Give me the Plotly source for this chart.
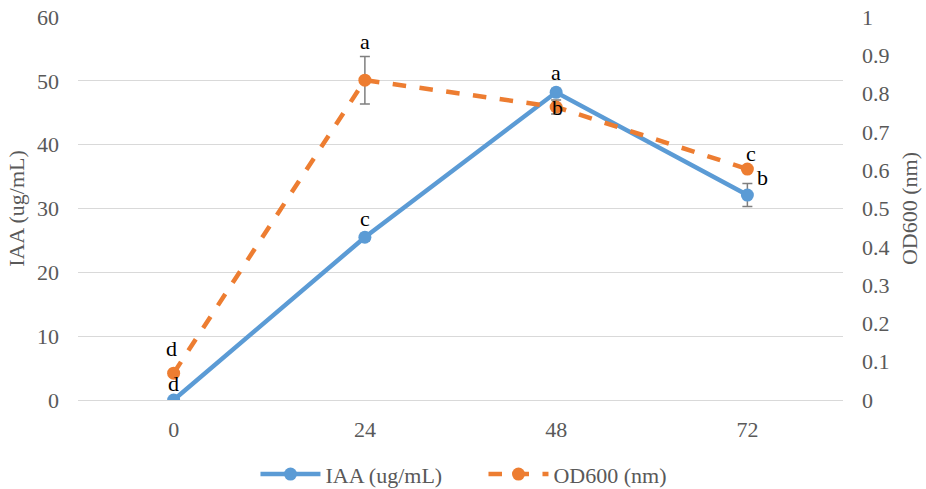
import plotly.graph_objects as go

hours = ["0", "24", "48", "72"]
iaa = [0.0, 25.5, 48.2, 32.1]
iaa_err = [0.3, 0.6, 0.6, 1.8]
iaa_letters = ["d", "c", "a", "b"]
od = [0.07, 0.835, 0.765, 0.603]
od_err = [0.0, 0.062, 0.018, 0.0]
od_letters = ["d", "a", "b", "c"]

BLUE = "#5B9BD5"
ORANGE = "#ED7D31"
GRAY = "#595959"
FONT = "Liberation Serif"

fig = go.Figure()
fig.add_trace(go.Scatter(
    x=hours, y=iaa, name="IAA (ug/mL)", mode="lines+markers",
    line=dict(color=BLUE, width=4.5), marker=dict(size=13, color=BLUE),
    error_y=dict(type="data", array=iaa_err, color="#7F7F7F", thickness=1.5, width=5),
    yaxis="y"))
fig.add_trace(go.Scatter(
    x=hours, y=od, name="OD600 (nm)", mode="lines+markers",
    line=dict(color=ORANGE, width=4.5, dash="dash"), marker=dict(size=13, color=ORANGE),
    error_y=dict(type="data", array=od_err, color="#7F7F7F", thickness=1.5, width=5),
    yaxis="y2"))

# letter annotations (offsets in pixels)
iaa_off = [(0, 17), (0, 19), (0, 20), (15, 18)]
od_off = [(-2, 25), (0, 39), (1, 0), (4, 16)]
for i, (v, t) in enumerate(zip(iaa, iaa_letters)):
    fig.add_annotation(x=i, y=v, xref="x", yref="y", text=t, showarrow=False,
                       xshift=iaa_off[i][0], yshift=iaa_off[i][1],
                       font=dict(family=FONT, size=22, color="black"))
for i, (v, t) in enumerate(zip(od, od_letters)):
    fig.add_annotation(x=i, y=v, xref="x", yref="y2", text=t, showarrow=False,
                       xshift=od_off[i][0], yshift=od_off[i][1],
                       font=dict(family=FONT, size=22, color="black"))

fig.update_layout(
    width=926, height=489,
    margin=dict(l=78, r=83, t=17, b=89, autoexpand=False),
    paper_bgcolor="white", plot_bgcolor="white",
    font=dict(family=FONT, size=22, color=GRAY),
    showlegend=True,
    legend=dict(orientation="h", x=0.232, xanchor="left", y=-0.194, yanchor="middle",
                font=dict(family=FONT, size=22, color=GRAY), itemwidth=60,
                entrywidth=153, entrywidthmode="pixels"),
    xaxis=dict(type="category", range=[-0.5, 3.5], showgrid=False, showline=False,
               zeroline=False, ticks="", ticklabelstandoff=14,
               tickfont=dict(size=22, color=GRAY)),
    yaxis=dict(range=[0, 60], dtick=10, showgrid=True, gridcolor="#D9D9D9", gridwidth=1.3,
               zeroline=True, zerolinecolor="#D9D9D9", zerolinewidth=1.3,
               showline=False, ticks="", ticklabelstandoff=18,
               tickfont=dict(size=22, color=GRAY),
               title=dict(text="IAA (ug/mL)", font=dict(size=22, color=GRAY), standoff=6)),
    yaxis2=dict(range=[0, 1], dtick=0.1, overlaying="y", side="right", showgrid=False,
                zeroline=False, showline=False, ticks="", ticklabelstandoff=18,
                tickfont=dict(size=22, color=GRAY),
                title=dict(text="OD600 (nm)", font=dict(size=22, color=GRAY), standoff=13)),
)

fig.write_html("out.html")
